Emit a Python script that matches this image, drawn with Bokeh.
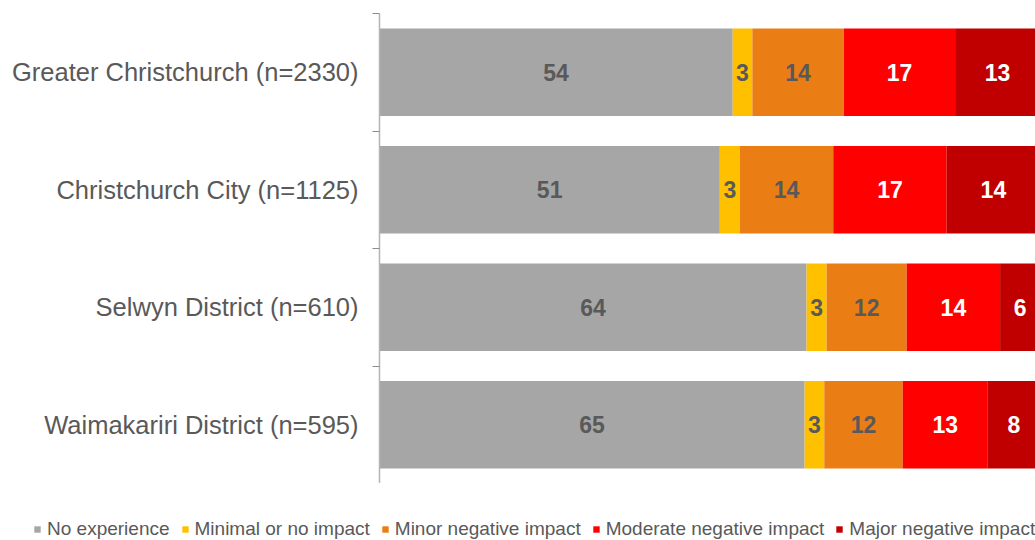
from bokeh.plotting import figure
from bokeh.layouts import column
from bokeh.models import Range1d, FixedTicker, Legend, LegendItem, ColumnDataSource
from bokeh.core.properties import value
from bokeh.embed import file_html
from bokeh.resources import INLINE

# ---- data ----
categories = [
    "Greater Christchurch (n=2330)",
    "Christchurch City (n=1125)",
    "Selwyn District (n=610)",
    "Waimakariri District (n=595)",
]
series = [
    "No experience",
    "Minimal or no impact",
    "Minor negative impact",
    "Moderate negative impact",
    "Major negative impact",
]
no_experience = [54, 51, 64, 65]
minimal_or_no_impact = [3, 3, 3, 3]
minor_negative_impact = [14, 14, 12, 12]
moderate_negative_impact = [17, 17, 14, 13]
major_negative_impact = [13, 14, 6, 8]

# ---- styles ----
colors = ["#a6a6a6", "#ffc000", "#eb7d15", "#ff0000", "#c00000"]
label_colors = ["#595959", "#595959", "#595959", "#ffffff", "#ffffff"]
FONT = "Liberation Sans"

values = [no_experience, minimal_or_no_impact, minor_negative_impact,
          moderate_negative_impact, major_negative_impact]
keys = ["s%d" % i for i in range(len(series))]
totals = [sum(col) for col in zip(*values)]
shares = [[v / t * 100.0 for v, t in zip(vals, totals)] for vals in values]

ys = list(range(len(categories)))
data = {"y": ys}
for k, sh in zip(keys, shares):
    data[k] = sh
source = ColumnDataSource(data)

p = figure(width=1035, height=483,
           x_range=Range1d(0, 99.3), y_range=Range1d(len(categories) - 0.5, -0.5),
           x_axis_type=None,
           output_backend="svg", toolbar_location=None,
           min_border_left=379, min_border_right=0,
           min_border_top=13, min_border_bottom=0)
p.outline_line_color = None
p.grid.visible = False
p.background_fill_color = "white"
p.border_fill_color = "white"
p.frame_align = False

renderers = p.hbar_stack(keys, y="y", height=0.745, color=colors,
                         line_color=None, source=source)

# value labels
lx, ly, lt, lc = [], [], [], []
for i in range(len(categories)):
    left = 0.0
    for s in range(len(series)):
        w = shares[s][i]
        lx.append(left + w / 2.0)
        ly.append(ys[i])
        lt.append(str(values[s][i]))
        lc.append(label_colors[s])
        left += w
lsrc = ColumnDataSource(dict(x=lx, y=ly, text=lt, color=lc))
p.text(x="x", y="y", text="text", source=lsrc, text_color="color",
       text_align="center", text_baseline="middle",
       text_font=value(FONT), text_font_size=value("23px"),
       text_font_style="bold")

# y axis with ticks at category boundaries
yax = p.yaxis[0]
yax.ticker = FixedTicker(ticks=ys, minor_ticks=[i - 0.5 for i in range(len(categories) + 1)])
yax.major_label_overrides = {i: c for i, c in zip(ys, categories)}
yax.major_tick_line_color = None
yax.major_tick_out = 0
yax.major_tick_in = 0
yax.minor_tick_line_color = "#8c8c8c"
yax.minor_tick_out = 7
yax.minor_tick_in = 0
yax.axis_line_color = "#b4b4b4"
yax.axis_line_width = 1.5
yax.major_label_standoff = 14
yax.major_label_text_font = FONT
yax.major_label_text_font_size = "25.5px"
yax.major_label_text_color = "#595959"

# legend strip below the chart
lf = figure(width=1035, height=57, x_range=Range1d(0, 1), y_range=Range1d(0, 1),
            x_axis_type=None, y_axis_type=None, min_border=0,
            output_backend="svg", toolbar_location=None)
lf.outline_line_color = None
lf.grid.visible = False
lf.border_fill_color = "white"
lf.background_fill_color = "white"
lf.frame_align = False
swatches = []
for c in colors:
    swatches.append(lf.rect(x=[0], y=[0], width=0, height=0,
                            fill_color=c, line_color=None))

legend = Legend(
    items=[LegendItem(label=s, renderers=[r]) for s, r in zip(series, swatches)],
    orientation="horizontal", location=(33, 0),
    glyph_width=8, glyph_height=8, label_standoff=6, spacing=11,
    padding=0, margin=0, border_line_color=None, background_fill_alpha=0,
    label_text_font=FONT, label_text_font_size="19px",
    label_text_color="#595959", label_height=19,
)
lf.add_layout(legend, "center")

layout = column(p, lf, spacing=0)
open("out.html", "w").write(file_html(layout, INLINE))
